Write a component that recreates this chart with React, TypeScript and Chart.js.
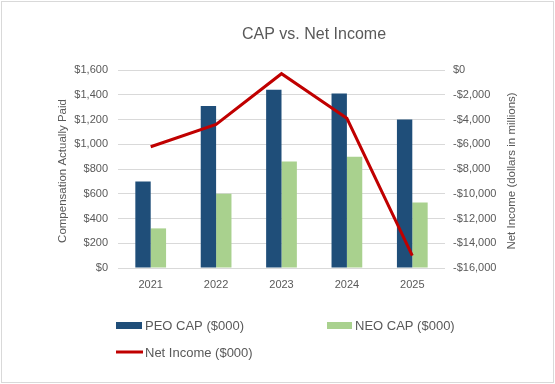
import React, { useEffect, useRef } from "react";
import { Chart, registerables } from "chart.js";

Chart.register(...registerables);

const categories = ["2021", "2022", "2023", "2024", "2025"];
const peoCap = [700, 1310, 1440, 1410, 1200];
const neoCap = [320, 600, 860, 900, 530];
const netIncome = [-6200, -4400, -300, -3900, -15000];

const leftTicksMax = 1600;
const leftStep = 200;
const rightTicksMin = -16000;
const rightStep = 2000;

const FONT = "'Liberation Sans', Arial, sans-serif";
const TEXT = "#595959";
const PEO_COLOR = "#1F4E79";
const NEO_COLOR = "#A9D18E";
const LINE_COLOR = "#C00000";

const fmt = (v: number) => {
  const s = "$" + Math.abs(v).toLocaleString("en-US");
  return v < 0 ? "-" + s : s;
};

const decor = {
  id: "decor",
  afterDraw(chart: any) {
    const ctx = chart.ctx;
    const area = chart.chartArea;
    const midY = (area.top + area.bottom) / 2 + 2;
    ctx.save();
    // border
    ctx.strokeStyle = "#D9D9D9";
    ctx.lineWidth = 1;
    ctx.strokeRect(1.5, 1.5, 552, 381);
    // title
    ctx.fillStyle = TEXT;
    ctx.font = `16px ${FONT}`;
    ctx.textAlign = "center";
    ctx.textBaseline = "middle";
    ctx.fillText("CAP vs. Net Income", 314, 35);
    // axis titles
    ctx.font = `11.5px ${FONT}`;
    ctx.save();
    ctx.translate(63, midY);
    ctx.rotate(-Math.PI / 2);
    ctx.fillText("Compensation Actually Paid", 0, 0);
    ctx.restore();
    ctx.save();
    ctx.translate(512, midY);
    ctx.rotate(-Math.PI / 2);
    ctx.fillText("Net Income (dollars in millions)", 0, 0);
    ctx.restore();
    // legend
    ctx.font = `13px ${FONT}`;
    ctx.textAlign = "left";
    ctx.fillStyle = PEO_COLOR;
    ctx.fillRect(116, 322, 26, 7);
    ctx.fillStyle = TEXT;
    ctx.fillText("PEO CAP ($000)", 145, 326);
    ctx.fillStyle = NEO_COLOR;
    ctx.fillRect(327, 322, 25, 7);
    ctx.fillStyle = TEXT;
    ctx.fillText("NEO CAP ($000)", 355, 326);
    ctx.strokeStyle = LINE_COLOR;
    ctx.lineWidth = 3;
    ctx.beginPath();
    ctx.moveTo(116, 352);
    ctx.lineTo(143, 352);
    ctx.stroke();
    ctx.fillStyle = TEXT;
    ctx.fillText("Net Income ($000)", 145, 353);
    ctx.restore();
  },
};

export default function App() {
  const ref = useRef<HTMLCanvasElement | null>(null);
  useEffect(() => {
    if (!ref.current) return;
    const chart = new Chart(ref.current, {
      type: "bar",
      data: {
        labels: categories,
        datasets: [
          {
            type: "line",
            label: "Net Income ($000)",
            data: netIncome,
            yAxisID: "y1",
            borderColor: LINE_COLOR,
            backgroundColor: LINE_COLOR,
            borderWidth: 3,
            pointRadius: 0,
            tension: 0,
            order: 0,
          } as any,
          {
            type: "bar",
            label: "PEO CAP ($000)",
            data: peoCap,
            yAxisID: "y",
            backgroundColor: PEO_COLOR,
            categoryPercentage: 0.47,
            barPercentage: 1,
            order: 1,
          },
          {
            type: "bar",
            label: "NEO CAP ($000)",
            data: neoCap,
            yAxisID: "y",
            backgroundColor: NEO_COLOR,
            categoryPercentage: 0.47,
            barPercentage: 1,
            order: 1,
          },
        ],
      },
      options: {
        responsive: false,
        animation: false,
        layout: { padding: { left: 0, right: 0, top: 70, bottom: 0 } },
        plugins: {
          legend: { display: false },
          title: { display: false },
          tooltip: { enabled: false },
        },
        scales: {
          x: {
            grid: { display: false, drawTicks: false },
            border: { display: false },
            ticks: { color: TEXT, font: { family: FONT, size: 11 }, padding: 10 },
            afterFit: (s: any) => {
              s.height = 116;
            },
          },
          y: {
            position: "left",
            min: 0,
            max: leftTicksMax,
            ticks: {
              stepSize: leftStep,
              color: TEXT,
              font: { family: FONT, size: 11 },
              padding: 10,
              callback: (v: any) => fmt(Number(v)),
            },
            grid: { color: "#D9D9D9", drawTicks: false, lineWidth: 1 },
            border: { display: false },
            afterFit: (s: any) => {
              s.width = 118;
            },
          },
          y1: {
            position: "right",
            min: rightTicksMin,
            max: 0,
            ticks: {
              stepSize: rightStep,
              color: TEXT,
              font: { family: FONT, size: 11 },
              padding: 8,
              callback: (v: any) => fmt(Number(v)),
            },
            grid: { display: false, drawTicks: false },
            border: { display: false },
            afterFit: (s: any) => {
              s.width = 110;
            },
          },
        },
      },
      plugins: [decor],
    } as any);
    return () => chart.destroy();
  }, []);
  return (
    <div style={{ position: "absolute", left: 0, top: 0, width: 555, height: 384, background: "#fff" }}>
      <canvas ref={ref} width={555} height={384} style={{ display: "block" }} />
    </div>
  );
}
